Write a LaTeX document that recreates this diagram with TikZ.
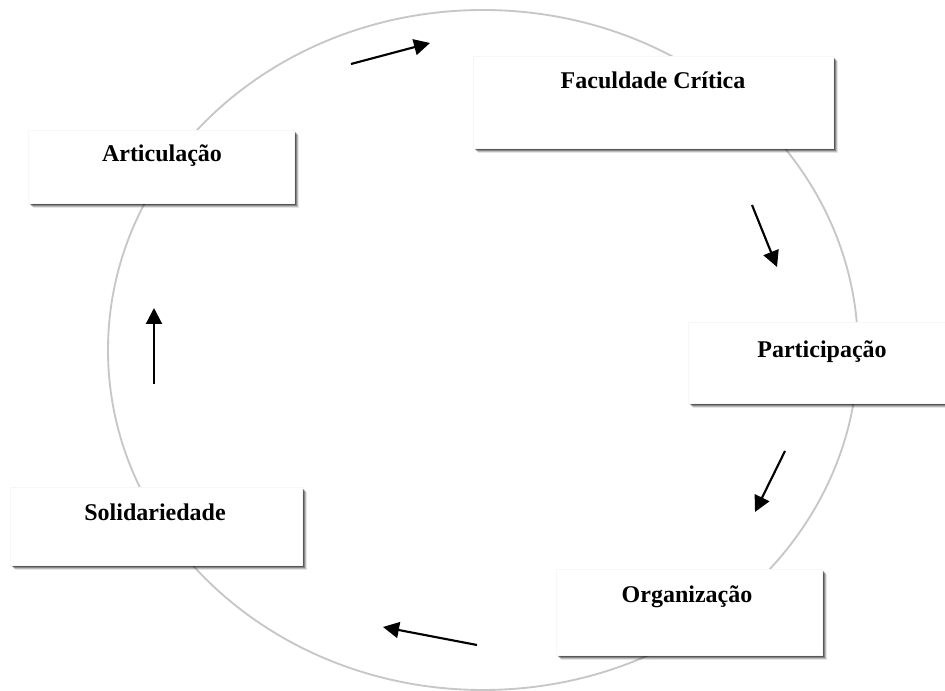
\documentclass[tikz,border=0pt]{standalone}
\usepackage{fontspec}
\setmainfont{Liberation Serif}
\usetikzlibrary{shadows,arrows.meta}
\begin{document}
\begin{tikzpicture}[x=0.75pt,y=-0.75pt,
  box/.style={draw=black!3,fill=white,inner sep=0pt,
    general shadow={shadow xshift=3.6pt,shadow yshift=-3.8pt,opacity=0.1,fill=black},
    general shadow={shadow xshift=2.8pt,shadow yshift=-3pt,opacity=0.18,fill=black},
    general shadow={shadow xshift=2pt,shadow yshift=-2.2pt,opacity=0.28,fill=black},
    general shadow={shadow xshift=1.2pt,shadow yshift=-1.4pt,opacity=0.35,fill=black}},
  lbl/.style={anchor=base,inner sep=0pt,font=\fontsize{18}{21}\selectfont\bfseries},
  flow/.style={line width=1.6pt,-{Triangle[length=12pt,width=12pt]}},
  ring/.style={draw=black!22,line width=1.4pt}]
\useasboundingbox (0,0) rectangle (945,691);
\fill[white] (0,0) rectangle (945,691);
\draw[ring] (483,350) ellipse [x radius=375, y radius=340];
% boxes
\node[box,minimum width=270pt,minimum height=69pt] (fc) at (653,102) {};
\node[box,minimum width=199.5pt,minimum height=54.75pt] (ar) at (161,166.5) {};
\node[box,minimum width=192.75pt,minimum height=60.75pt] (pa) at (816.5,362.5) {};
\node[box,minimum width=199.5pt,minimum height=64.5pt] (or) at (689,612) {};
\node[box,minimum width=219pt,minimum height=58.5pt] (so) at (156,526) {};
% labels
\node[lbl] (fct) at (653,89) {Faculdade Crítica};
\node[lbl] (art) at (162,162) {Articulação};
\node[lbl] (pat) at (822,357) {Participação};
\node[lbl] (ort) at (687,602) {Organização};
\node[lbl] (sot) at (155,520) {Solidariedade};
% arrows
\coordinate (a1s) at (351,64);  \coordinate (a1e) at (430,43);
\coordinate (a2s) at (752,205); \coordinate (a2e) at (777,267);
\coordinate (a3s) at (785,451); \coordinate (a3e) at (755,512);
\coordinate (a4s) at (477,645); \coordinate (a4e) at (383,627);
\coordinate (a5s) at (154,384); \coordinate (a5e) at (154,308);
\draw[flow] (a1s) -- (a1e);
\draw[flow] (a2s) -- (a2e);
\draw[flow] (a3s) -- (a3e);
\draw[flow] (a4s) -- (a4e);
\draw[flow] (a5s) -- (a5e);
\end{tikzpicture}
\end{document}
